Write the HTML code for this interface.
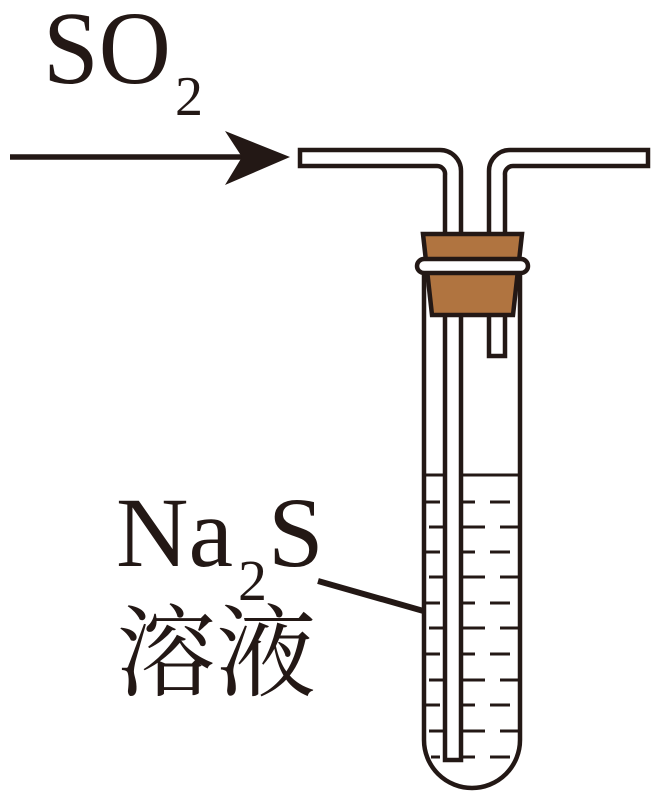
<!DOCTYPE html>
<html><head><meta charset="utf-8"><style>
html,body{margin:0;padding:0;background:#fff;}
svg{display:block;}
text{fill:#231815;}
.s{font-family:"Liberation Serif","Noto Serif CJK SC",serif;}
</style></head><body>
<svg width="660" height="794" viewBox="0 0 660 794" xmlns="http://www.w3.org/2000/svg">
<g class="s">
<text class="s" x="43" y="83" font-size="104" textLength="128" lengthAdjust="spacingAndGlyphs">SO</text>
<text class="s" x="175" y="115" font-size="56">2</text>
<text class="s" x="116" y="566" font-size="100" textLength="117" lengthAdjust="spacingAndGlyphs">Na</text>
<text class="s" x="238" y="600" font-size="58">2</text>
<text class="s" x="268" y="566" font-size="100">S</text>
<text class="s" x="116" y="688" font-size="100">溶液</text>
</g>
<g stroke="#231815" fill="none" stroke-width="4.5">
<line x1="10" y1="157" x2="250" y2="157" stroke-width="5.5"/>
<line x1="318" y1="581" x2="434" y2="614" stroke-width="6"/>
<path d="M424 272 L424 740 A48 48 0 0 0 520 740 L520 272" fill="#fff"/>
<line x1="424" y1="475" x2="520" y2="475" stroke-width="3"/>
</g>
<path d="M290 157 L225 131 L242 157 L225 185 Z" fill="#231815"/>
<g stroke="#231815" stroke-width="3">
<path d="M426 502h14M455 502h20M490 502h20M429 527h21M463 527h22M500 527h18
M426 552h14M455 552h20M490 552h20M429 577h21M463 577h22M500 577h18
M426 603h14M455 603h20M490 603h20M429 628h21M463 628h22M500 628h18
M426 654h14M455 654h20M490 654h20M429 680h21M463 680h22M500 680h18
M426 705h14M455 705h20M490 705h20M429 731h21M463 731h22M500 731h18
M431 757h9M455 757h20M490 757h20"/>
</g>
<g stroke="#231815" stroke-width="4.5" fill="#fff">
<path d="M489 300 L489 356 L505 356 L505 300"/>
<path d="M445 300 L445 760 L461 760 L461 300"/>
<path d="M300 150 L440 150 A21 21 0 0 1 461 171 L461 236 L445 236 L445 175 A8 8 0 0 0 437 166 L300 166 Z"/>
<path d="M648 150 L510 150 A21 21 0 0 0 489 171 L489 236 L505 236 L505 175 A8 8 0 0 1 513 166 L648 166 Z"/>
<path d="M423 234 L522 234 L513 315 L432 315 Z" fill="#b07440"/>
<rect x="417" y="259" width="111" height="14" rx="7" fill="#fff"/>
</g>
</svg>
</body></html>
